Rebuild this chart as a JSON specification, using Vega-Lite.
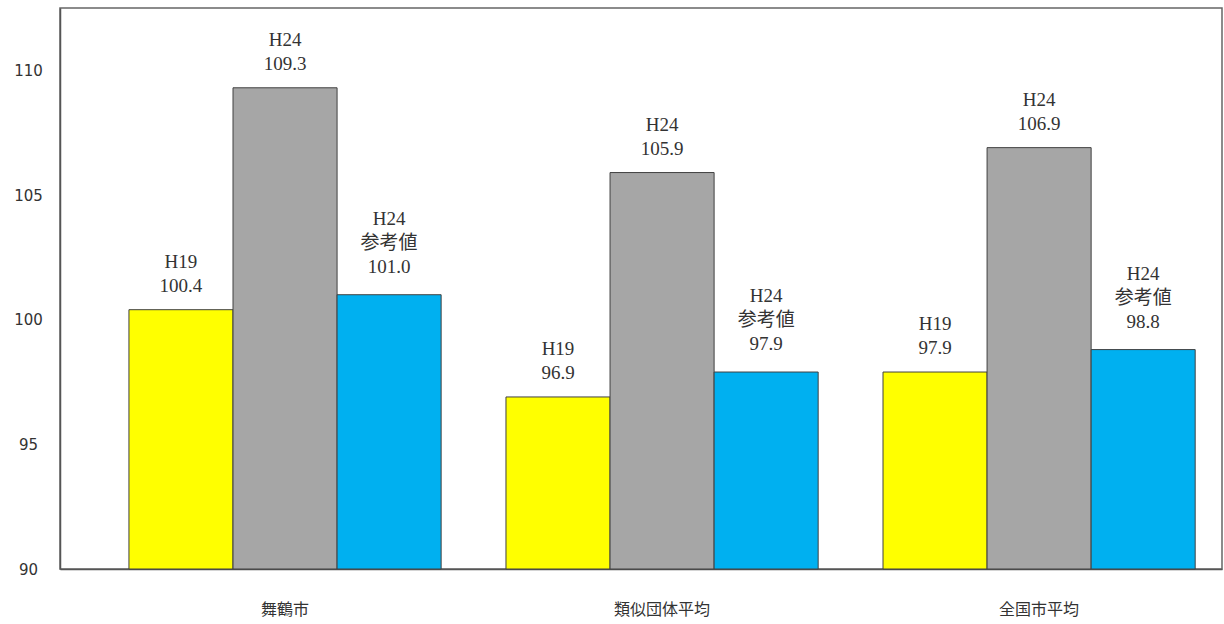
{
  "$schema": "https://vega.github.io/schema/vega-lite/v6.json",
  "autosize": "none",
  "padding": {"left": 60, "top": 8, "right": 2, "bottom": 55},
  "width": 1162,
  "height": 561,
  "background": "white",
  "config": {
    "view": {"stroke": "#666666", "strokeWidth": 1.5}
  },
  "data": {
    "values": [
      {"group": "舞鶴市", "series": "H19", "value": 100.4, "label": "H19\n100.4"},
      {"group": "舞鶴市", "series": "H24", "value": 109.3, "label": "H24\n109.3"},
      {"group": "舞鶴市", "series": "H24参考値", "value": 101.0, "label": "H24\n参考値\n101.0"},
      {"group": "類似団体平均", "series": "H19", "value": 96.9, "label": "H19\n96.9"},
      {"group": "類似団体平均", "series": "H24", "value": 105.9, "label": "H24\n105.9"},
      {"group": "類似団体平均", "series": "H24参考値", "value": 97.9, "label": "H24\n参考値\n97.9"},
      {"group": "全国市平均", "series": "H19", "value": 97.9, "label": "H19\n97.9"},
      {"group": "全国市平均", "series": "H24", "value": 106.9, "label": "H24\n106.9"},
      {"group": "全国市平均", "series": "H24参考値", "value": 98.8, "label": "H24\n参考値\n98.8"}
    ]
  },
  "encoding": {
    "x": {
      "field": "group",
      "type": "nominal",
      "sort": ["舞鶴市", "類似団体平均", "全国市平均"],
      "scale": {"paddingInner": 0.172, "paddingOuter": 0.127, "align": 0.72},
      "axis": {
        "title": null,
        "labelAngle": 0,
        "ticks": false,
        "tickSize": 0,
        "labelPadding": 32,
        "labelFont": "Noto Sans CJK JP",
        "labelFontSize": 16,
        "labelColor": "#333333",
        "domainColor": "#555555",
        "domainWidth": 1.5
      }
    },
    "xOffset": {
      "field": "series",
      "type": "nominal",
      "sort": ["H19", "H24", "H24参考値"],
      "scale": {"paddingInner": 0, "paddingOuter": 0}
    },
    "y": {
      "field": "value",
      "type": "quantitative",
      "scale": {"domain": [90, 112.5], "nice": false, "zero": false},
      "axis": {
        "title": null,
        "values": [90, 95, 100, 105, 110],
        "grid": false,
        "ticks": false,
        "tickSize": 0,
        "labelAlign": "center",
        "labelPadding": 32,
        "labelFont": "DejaVu Sans",
        "labelFontSize": 15,
        "labelColor": "#333333",
        "domainColor": "#555555",
        "domainWidth": 1.5
      }
    }
  },
  "layer": [
    {
      "mark": {"type": "bar", "stroke": "#404040", "strokeWidth": 1},
      "encoding": {
        "y2": {"datum": 90},
        "color": {
          "field": "series",
          "type": "nominal",
          "scale": {"domain": ["H19", "H24", "H24参考値"], "range": ["#FFFF00", "#A6A6A6", "#00B0F0"]},
          "legend": null
        }
      }
    },
    {
      "transform": [{"filter": "datum.series !== 'H24参考値'"}],
      "mark": {
        "type": "text",
        "lineBreak": "\n",
        "lineHeight": 24,
        "baseline": "alphabetic",
        "dy": -42,
        "font": "Liberation Serif, Noto Sans CJK JP",
        "fontSize": 19,
        "color": "#333333"
      },
      "encoding": {
        "text": {"field": "label"}
      }
    },
    {
      "transform": [{"filter": "datum.series === 'H24参考値'"}],
      "mark": {
        "type": "text",
        "lineBreak": "\n",
        "lineHeight": 24,
        "baseline": "alphabetic",
        "dy": -70,
        "font": "Liberation Serif, Noto Sans CJK JP",
        "fontSize": 19,
        "color": "#333333"
      },
      "encoding": {
        "text": {"field": "label"}
      }
    }
  ]
}
